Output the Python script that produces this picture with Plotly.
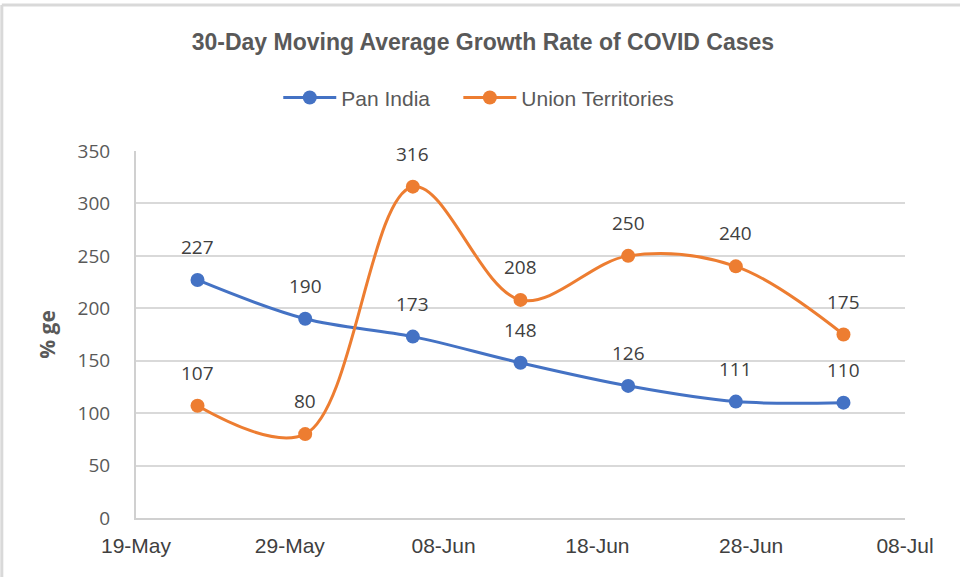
import plotly.graph_objects as go

# Weekly observation dates and 30-day moving average growth (%)
dates = ["2020-05-23", "2020-05-30", "2020-06-06", "2020-06-13",
         "2020-06-20", "2020-06-27", "2020-07-04"]
pan_india = [227, 190, 173, 148, 126, 111, 110]
union_territories = [107, 80, 316, 208, 250, 240, 175]

series_names = ["Pan India", "Union Territories"]
series_colors = ["#4472C4", "#ED7D31"]

title_text = "30-Day Moving Average Growth Rate of COVID Cases"
y_title = "% ge"
x_ticks = ["2020-05-19", "2020-05-29", "2020-06-08", "2020-06-18",
           "2020-06-28", "2020-07-08"]

label_font = dict(family="Open Sans, Noto Sans, sans-serif", size=19, color="#404040")
narrow_font = "Liberation Sans Narrow, Arial Narrow, sans-serif"

fig = go.Figure()
for i, (name, vals, col) in enumerate(zip(series_names, [pan_india, union_territories], series_colors)):
    # pad the legend text of all but the last entry to space the entries apart
    legend_name = name + ("\u00a0" * 4 if i < len(series_names) - 1 else "")
    fig.add_trace(go.Scatter(
        x=dates, y=vals, name=legend_name,
        mode="lines+markers",
        line=dict(color=col, width=3, shape="spline", smoothing=1.0),
        marker=dict(color=col, size=14),
        cliponaxis=False,
    ))
    # value labels above each point
    for d, v in zip(dates, vals):
        fig.add_annotation(x=d, y=v, xref="x", yref="y", text=str(v),
                           showarrow=False, yshift=33, font=label_font)

fig.update_layout(
    width=960, height=577,
    margin=dict(l=136, r=55, t=151, b=59),
    paper_bgcolor="white", plot_bgcolor="white",
    title=dict(text=title_text, x=0.503, xanchor="center", y=0.927, yanchor="middle",
               font=dict(family=narrow_font, size=23, color="#595959", weight="bold")),
    legend=dict(orientation="h", x=0.185, xanchor="left", y=1.145, yanchor="middle",
                font=dict(family=narrow_font, size=21, color="#595959"),
                itemwidth=53, tracegroupgap=0),
    showlegend=True,
    xaxis=dict(
        type="date", range=["2020-05-19", "2020-07-08"],
        tickvals=x_ticks, tickformat="%d-%b",
        showgrid=False, showline=True, linecolor="#D0D0D0", linewidth=2,
        ticks="", ticklabelstandoff=8,
        tickfont=dict(family=narrow_font, size=21, color="#404040"),
        zeroline=False,
    ),
    yaxis=dict(
        range=[0, 350], dtick=50,
        showgrid=True, gridcolor="#D9D9D9", gridwidth=2,
        showline=True, linecolor="#D0D0D0", linewidth=2,
        ticks="", ticklabelstandoff=20,
        tickfont=dict(family="Open Sans, Noto Sans, sans-serif", size=19, color="#595959"),
        title=dict(text=y_title, standoff=16,
                   font=dict(family="Open Sans, sans-serif", size=21, color="#595959", weight="bold")),
        zeroline=False,
    ),
)

# Outer frame (top and left edges)
fig.add_shape(type="line", xref="paper", yref="paper",
              x0=-0.1745, x1=1.08, y0=1.398, y1=1.398,
              line=dict(color="#D9D9D9", width=3))
fig.add_shape(type="line", xref="paper", yref="paper",
              x0=-0.1745, x1=-0.1745, y0=-0.2, y1=1.398,
              line=dict(color="#D9D9D9", width=3))

fig.write_html("out.html")
